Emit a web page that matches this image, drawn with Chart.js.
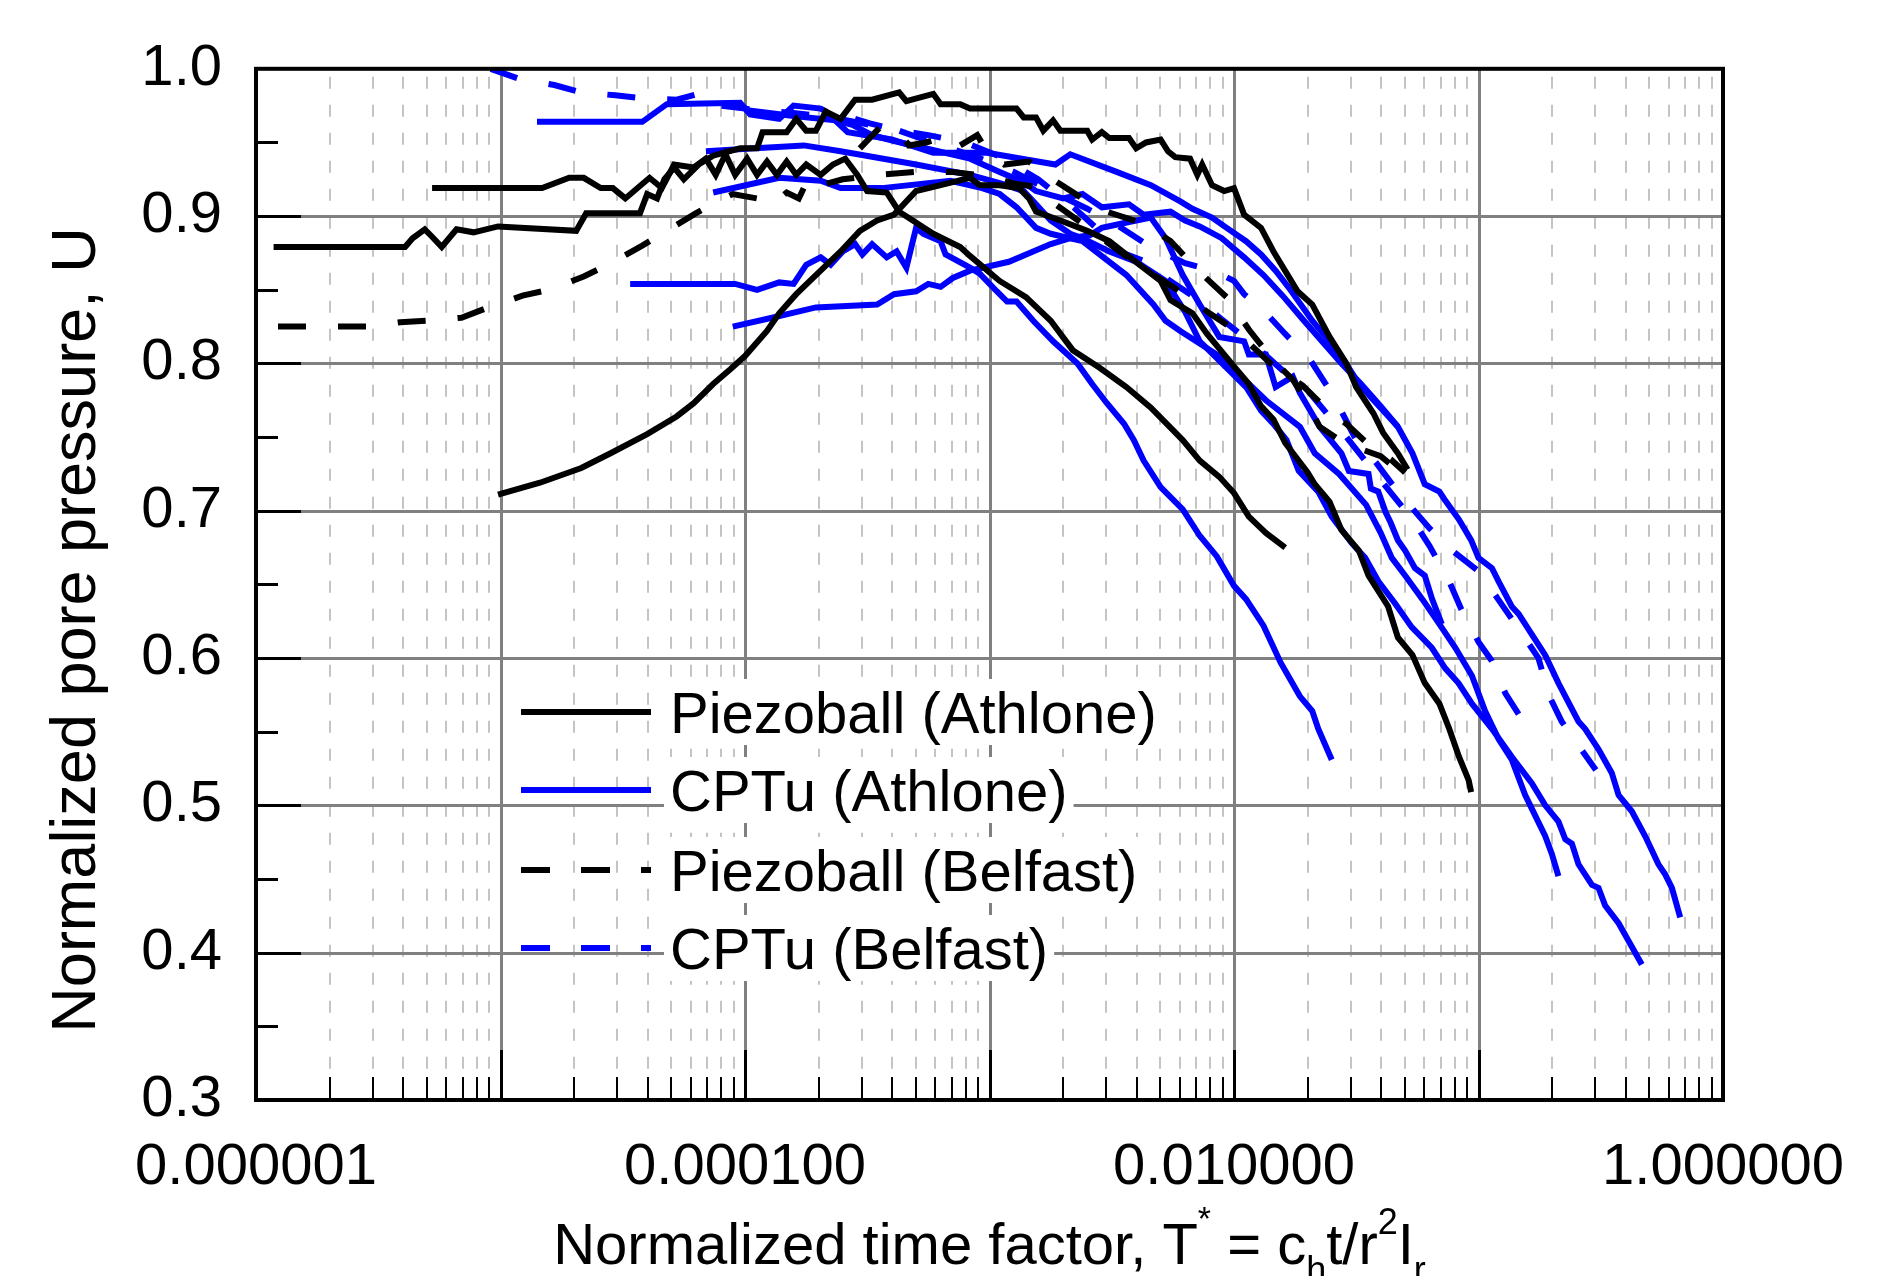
<!DOCTYPE html>
<html>
<head>
<meta charset="utf-8">
<title>Normalized pore pressure vs normalized time factor</title>
<script src="https://cdn.jsdelivr.net/npm/chart.js@4.4.1/dist/chart.umd.min.js"></script>
<style>
  html, body { margin: 0; padding: 0; background: #ffffff; }
  #wrap { width: 1879px; height: 1276px; position: relative; }
</style>
</head>
<body>
<div id="wrap"><canvas id="chart"></canvas></div>
<script>
// ---- data: [T*, U] ----
// Piezoball (Athlone) - black solid
const pbAthloneA = [[1.18e-6,0.879],[4.07e-6,0.879],[4.37e-6,0.885],[4.90e-6,0.891],[5.25e-6,0.886],[5.75e-6,0.879],[6.61e-6,0.891],[7.76e-6,0.889],[9.77e-6,0.893],[2.04e-5,0.890],[2.24e-5,0.902],[3.72e-5,0.902],[3.98e-5,0.915],[4.37e-5,0.912],[4.68e-5,0.925],[5.13e-5,0.933],[5.62e-5,0.925],[6.46e-5,0.935],[7.41e-5,0.941],[9.55e-5,0.946],[1.12e-4,0.946],[1.18e-4,0.957],[1.48e-4,0.957],[1.62e-4,0.966],[1.78e-4,0.958],[1.95e-4,0.958],[2.14e-4,0.971],[2.46e-4,0.966],[2.82e-4,0.979],[3.31e-4,0.979],[4.27e-4,0.984],[4.57e-4,0.978],[5.89e-4,0.983],[6.31e-4,0.976],[7.59e-4,0.976],[8.32e-4,0.973],[1.29e-3,0.973],[1.38e-3,0.967],[1.55e-3,0.967],[1.66e-3,0.958],[1.82e-3,0.965],[1.95e-3,0.958],[2.51e-3,0.958],[2.63e-3,0.952],[2.88e-3,0.957],[3.09e-3,0.953],[3.72e-3,0.953],[3.98e-3,0.946],[4.37e-3,0.950],[5.01e-3,0.952],[5.37e-3,0.944],[5.75e-3,0.940],[6.61e-3,0.939],[7.08e-3,0.928],[7.41e-3,0.935],[8.13e-3,0.921],[9.12e-3,0.917],[1.00e-2,0.919],[1.10e-2,0.901],[1.29e-2,0.892],[1.45e-2,0.876],[1.82e-2,0.849],[2.09e-2,0.840],[2.46e-2,0.818],[2.88e-2,0.800],[3.16e-2,0.784],[3.72e-2,0.766],[4.07e-2,0.753],[4.68e-2,0.739],[5.13e-2,0.728]];
const pbAthloneB = [[5.25e-6,0.919],[1.48e-5,0.919],[1.91e-5,0.926],[2.19e-5,0.926],[2.57e-5,0.919],[2.88e-5,0.919],[3.24e-5,0.912],[4.07e-5,0.926],[4.57e-5,0.919],[5.13e-5,0.935],[6.17e-5,0.933],[6.92e-5,0.939],[7.59e-5,0.928],[8.32e-5,0.942],[9.12e-5,0.928],[1.02e-4,0.939],[1.12e-4,0.928],[1.23e-4,0.937],[1.35e-4,0.928],[1.48e-4,0.937],[1.62e-4,0.928],[1.78e-4,0.935],[2.04e-4,0.928],[2.29e-4,0.935],[2.57e-4,0.939],[2.88e-4,0.928],[3.16e-4,0.917],[3.80e-4,0.916],[4.27e-4,0.903],[5.89e-4,0.888],[7.59e-4,0.879],[8.32e-4,0.873],[1.10e-3,0.856],[1.41e-3,0.845],[1.78e-3,0.829],[2.19e-3,0.809],[2.82e-3,0.797],[3.63e-3,0.784],[4.57e-3,0.770],[6.17e-3,0.748],[7.24e-3,0.734],[8.71e-3,0.723],[1.00e-2,0.712],[1.15e-2,0.696],[1.35e-2,0.685],[1.62e-2,0.675]];
const pbAthloneC = [[9.77e-6,0.711],[1.45e-5,0.719],[2.14e-5,0.729],[2.82e-5,0.739],[3.98e-5,0.752],[5.25e-5,0.764],[6.17e-5,0.773],[7.41e-5,0.786],[8.71e-5,0.796],[1.00e-4,0.805],[1.23e-4,0.822],[1.38e-4,0.834],[1.62e-4,0.847],[1.95e-4,0.860],[2.46e-4,0.876],[2.95e-4,0.890],[3.47e-4,0.897],[4.07e-4,0.901],[5.01e-4,0.917],[6.31e-4,0.921],[8.32e-4,0.926],[9.12e-4,0.921],[1.10e-3,0.921],[1.32e-3,0.919],[1.45e-3,0.912],[1.55e-3,0.903],[1.95e-3,0.897],[2.51e-3,0.890],[3.09e-3,0.883],[3.89e-3,0.870],[5.01e-3,0.856],[5.50e-3,0.843],[6.76e-3,0.834],[7.76e-3,0.820],[1.00e-2,0.798],[1.15e-2,0.786],[1.29e-2,0.771],[1.45e-2,0.762],[1.62e-2,0.746],[2.00e-2,0.726],[2.14e-2,0.718],[2.46e-2,0.706],[2.75e-2,0.687],[3.24e-2,0.673],[3.55e-2,0.656],[4.27e-2,0.635],[4.68e-2,0.614],[5.37e-2,0.602],[6.03e-2,0.583],[6.92e-2,0.569],[7.59e-2,0.552],[8.32e-2,0.533],[9.12e-2,0.517],[9.33e-2,0.509]];

// Piezoball (Belfast) - black dashed
const pbBelfastA = [[1.23e-6,0.825],[2.82e-6,0.825],[3.89e-6,0.828],[5.01e-6,0.829],[6.92e-6,0.831],[8.91e-6,0.838],[1.23e-5,0.846],[1.58e-5,0.850],[2.19e-5,0.859],[2.82e-5,0.868],[3.80e-5,0.880],[4.79e-5,0.890],[6.31e-5,0.902],[7.94e-5,0.911],[8.91e-5,0.915],[1.12e-4,0.912],[1.29e-4,0.908],[1.48e-4,0.916],[1.66e-4,0.912],[1.82e-4,0.926],[2.04e-4,0.921],[2.51e-4,0.925],[3.55e-4,0.928],[5.01e-4,0.930],[7.08e-4,0.930],[1.00e-3,0.927],[1.26e-3,0.922],[1.55e-3,0.920],[1.86e-3,0.908],[2.40e-3,0.895],[3.16e-3,0.880],[4.37e-3,0.863],[5.62e-3,0.852],[7.94e-3,0.834],[1.02e-2,0.822],[1.41e-2,0.800],[1.91e-2,0.785],[2.29e-2,0.772],[2.88e-2,0.759],[3.55e-2,0.745],[4.37e-2,0.735],[5.01e-2,0.726]];
const pbBelfastB = [[2.95e-4,0.946],[3.55e-4,0.960],[4.27e-4,0.957],[4.68e-4,0.948],[5.50e-4,0.950],[6.61e-4,0.954],[7.59e-4,0.948],[8.91e-4,0.955],[9.77e-4,0.944],[1.15e-3,0.935],[1.45e-3,0.937],[1.70e-3,0.928],[2.40e-3,0.912],[3.02e-3,0.903],[4.27e-3,0.895],[5.50e-3,0.883],[7.24e-3,0.862],[9.33e-3,0.845],[1.15e-2,0.823],[1.45e-2,0.802],[1.74e-2,0.789],[2.00e-2,0.773],[2.24e-2,0.757],[2.82e-2,0.746],[3.98e-2,0.737],[5.13e-2,0.722]];

// CPTu (Athlone) - blue solid
const cptAthloneA = [[1.41e-5,0.964],[3.80e-5,0.964],[4.79e-5,0.976],[9.55e-5,0.977],[1.05e-4,0.969],[1.38e-4,0.966],[1.58e-4,0.975],[2.04e-4,0.973],[2.14e-4,0.971],[2.63e-4,0.957],[3.98e-4,0.952],[5.89e-4,0.943],[9.77e-4,0.943],[1.86e-3,0.935],[2.14e-3,0.942],[3.31e-3,0.930],[4.57e-3,0.921],[6.03e-3,0.910],[6.76e-3,0.905],[8.13e-3,0.899],[9.33e-3,0.892],[1.12e-2,0.883],[1.29e-2,0.874],[1.48e-2,0.863],[1.70e-2,0.850],[2.09e-2,0.829],[2.46e-2,0.815],[2.82e-2,0.802],[3.16e-2,0.789],[3.63e-2,0.777],[4.07e-2,0.768],[4.68e-2,0.757],[5.37e-2,0.739],[6.03e-2,0.718],[6.92e-2,0.713],[7.24e-2,0.708],[8.32e-2,0.694],[9.33e-2,0.680],[0.100,0.668],[0.1135,0.661],[0.1208,0.652],[0.1368,0.635],[0.1459,0.630],[0.1652,0.616],[0.1875,0.602],[0.2123,0.583],[0.2564,0.557],[0.2729,0.552],[0.3097,0.538],[0.3508,0.522],[0.3741,0.507],[0.4236,0.496],[0.4808,0.479],[0.5445,0.460],[0.5808,0.453],[0.6180,0.444],[0.6683,0.424]];
const cptAthloneB = [[3.39e-5,0.854],[9.12e-5,0.854],[1.12e-4,0.850],[1.38e-4,0.855],[1.58e-4,0.854],[1.78e-4,0.867],[2.04e-4,0.872],[2.24e-4,0.867],[2.51e-4,0.876],[2.82e-4,0.881],[3.02e-4,0.874],[3.31e-4,0.881],[3.80e-4,0.872],[4.17e-4,0.876],[4.57e-4,0.865],[5.01e-4,0.892],[5.37e-4,0.888],[6.31e-4,0.883],[6.61e-4,0.874],[8.32e-4,0.865],[9.12e-4,0.861],[1.07e-3,0.849],[1.18e-3,0.842],[1.29e-3,0.842],[1.51e-3,0.829],[1.82e-3,0.815],[2.29e-3,0.800],[2.63e-3,0.786],[3.02e-3,0.773],[3.55e-3,0.759],[3.89e-3,0.748],[4.27e-3,0.734],[5.01e-3,0.716],[6.17e-3,0.701],[7.24e-3,0.683],[8.51e-3,0.669],[1.00e-2,0.649],[1.12e-2,0.640],[1.32e-2,0.622],[1.55e-2,0.597],[1.86e-2,0.574],[2.09e-2,0.564],[2.21e-2,0.552],[2.51e-2,0.531]];
const cptAthloneC = [[8.91e-5,0.825],[1.29e-4,0.831],[1.95e-4,0.838],[3.47e-4,0.840],[4.07e-4,0.847],[5.01e-4,0.849],[5.62e-4,0.854],[6.31e-4,0.852],[7.08e-4,0.858],[8.32e-4,0.863],[1.20e-3,0.869],[1.78e-3,0.881],[2.14e-3,0.885],[2.57e-3,0.887],[2.88e-3,0.892],[3.72e-3,0.896],[4.57e-3,0.899],[5.25e-3,0.885],[6.17e-3,0.860],[7.24e-3,0.840],[8.71e-3,0.818],[1.10e-2,0.815],[1.15e-2,0.806],[1.35e-2,0.806],[1.48e-2,0.784],[1.74e-2,0.791],[1.86e-2,0.780],[2.24e-2,0.757],[2.75e-2,0.739],[2.95e-2,0.727],[3.55e-2,0.725],[3.63e-2,0.715],[3.89e-2,0.713],[4.17e-2,0.699],[4.37e-2,0.692],[4.68e-2,0.680],[5.01e-2,0.673],[5.50e-2,0.661],[6.03e-2,0.656],[6.46e-2,0.640],[7.08e-2,0.623]];
const cptAthloneD = [[7.41e-5,0.916],[1.38e-4,0.926],[2.04e-4,0.924],[2.46e-4,0.919],[3.63e-4,0.919],[6.92e-4,0.924],[9.33e-4,0.919],[1.10e-3,0.915],[1.29e-3,0.906],[1.55e-3,0.892],[1.78e-3,0.888],[2.40e-3,0.883],[2.82e-3,0.874],[3.63e-3,0.860],[4.68e-3,0.840],[5.25e-3,0.829],[6.03e-3,0.822],[8.51e-3,0.806],[1.12e-2,0.788],[1.35e-2,0.775],[1.86e-2,0.757],[2.14e-2,0.739],[2.69e-2,0.725],[3.47e-2,0.704],[3.98e-2,0.685],[4.42e-2,0.668],[5.01e-2,0.656],[5.89e-2,0.640],[6.92e-2,0.623],[8.04e-2,0.607],[9.40e-2,0.588],[0.1064,0.564],[0.1208,0.545],[0.1368,0.531],[0.1552,0.507],[0.1706,0.493],[0.1875,0.479],[0.1995,0.467],[0.2123,0.452]];
const cptAthloneE = [[6.92e-5,0.944],[1.10e-4,0.946],[1.74e-4,0.948],[2.46e-4,0.944],[5.01e-4,0.935],[8.32e-4,0.928],[1.12e-3,0.922],[1.38e-3,0.917],[1.55e-3,0.908],[1.78e-3,0.897],[2.14e-3,0.888],[2.40e-3,0.885],[3.09e-3,0.876],[3.98e-3,0.869],[5.25e-3,0.856],[6.31e-3,0.835],[7.24e-3,0.815],[8.71e-3,0.802],[1.12e-2,0.784],[1.29e-2,0.768],[1.45e-2,0.759],[1.64e-2,0.748],[1.84e-2,0.727],[2.21e-2,0.713],[2.51e-2,0.696],[3.03e-2,0.678],[3.44e-2,0.668],[3.90e-2,0.652],[4.56e-2,0.637],[5.33e-2,0.621],[6.44e-2,0.607],[7.31e-2,0.593],[8.28e-2,0.583],[9.40e-2,0.569],[0.1135,0.552],[0.1368,0.533],[0.1652,0.515],[0.1875,0.500],[0.2123,0.489],[0.2265,0.477],[0.2410,0.474],[0.2564,0.460],[0.2911,0.446],[0.3097,0.444],[0.3296,0.432],[0.3741,0.420],[0.4111,0.408],[0.4656,0.392]];
const cptAthloneF = [[1.00e-4,0.972],[1.58e-4,0.968],[2.34e-4,0.965],[2.75e-4,0.962],[3.31e-4,0.955],[4.07e-4,0.951],[8.32e-4,0.939],[1.10e-3,0.930],[1.38e-3,0.923],[1.55e-3,0.917],[2.00e-3,0.912],[2.40e-3,0.915],[2.88e-3,0.906],[3.72e-3,0.908],[4.27e-3,0.901],[5.50e-3,0.903],[6.31e-3,0.897],[7.24e-3,0.893],[8.91e-3,0.885],[1.10e-2,0.872],[1.32e-2,0.860],[1.58e-2,0.846],[1.91e-2,0.830],[2.29e-2,0.815],[2.75e-2,0.800],[3.31e-2,0.786],[3.98e-2,0.771],[4.68e-2,0.757]];

// CPTu (Belfast) - blue dashed
const cptBelfastA = [[9.12e-6,1.000],[1.20e-5,0.993],[1.66e-5,0.989],[2.14e-5,0.984],[2.95e-5,0.982],[3.80e-5,0.980],[5.25e-5,0.979],[6.76e-5,0.984],[7.94e-5,0.975],[1.12e-4,0.972],[1.58e-4,0.970],[2.24e-4,0.967],[2.82e-4,0.964],[4.27e-4,0.958],[6.31e-4,0.948],[8.91e-4,0.940],[1.26e-3,0.930],[1.78e-3,0.917],[2.51e-3,0.905],[3.39e-3,0.893],[4.47e-3,0.880],[6.31e-3,0.868],[8.22e-3,0.863],[1.00e-2,0.856],[1.10e-2,0.847],[1.32e-2,0.836],[1.62e-2,0.820],[2.04e-2,0.803],[2.57e-2,0.777],[3.16e-2,0.748],[3.80e-2,0.733],[4.57e-2,0.715],[6.31e-2,0.688],[7.94e-2,0.672],[0.100,0.659],[0.1202,0.640],[0.1514,0.616],[0.1758,0.600],[0.1950,0.574],[0.2188,0.557],[0.2630,0.538],[0.3020,0.524]];
const cptBelfastB = [[2.82e-4,0.966],[3.24e-4,0.963],[4.27e-4,0.958],[5.62e-4,0.955],[7.94e-4,0.950],[1.12e-3,0.940],[1.58e-3,0.925],[2.24e-3,0.905],[2.82e-3,0.890],[3.39e-3,0.876],[4.37e-3,0.869],[5.25e-3,0.858],[6.61e-3,0.847],[8.91e-3,0.830],[1.26e-2,0.810],[1.74e-2,0.789],[2.04e-2,0.780],[2.82e-2,0.752],[3.80e-2,0.725],[5.37e-2,0.694],[6.31e-2,0.676],[7.59e-2,0.652],[8.51e-2,0.633],[0.100,0.611],[0.1135,0.598],[0.1288,0.576],[0.1459,0.562]];

// ---- axes / legend text ----
const xDecades = [1e-6, 1e-5, 1e-4, 1e-3, 1e-2, 1e-1, 1];
const xTickValues = [1e-6, 1e-4, 1e-2, 1];
const xTickLabels = ['0.000001', '0.000100', '0.010000', '1.000000'];
const yMajorValues = [0.4, 0.5, 0.6, 0.7, 0.8, 0.9];
const yMinorValues = [0.35, 0.45, 0.55, 0.65, 0.75, 0.85, 0.95];
const yAxisTitle = 'Normalized pore pressure, U';

const BLACK = '#000000';
const BLUE = '#0000ff';
const DASH = [28, 32];
const LINE_W = 6;
const FONT = "'Liberation Sans', Arial, Helvetica, sans-serif";

const legendItems = [
  { text: 'Piezoball (Athlone)', color: BLACK, dash: [] },
  { text: 'CPTu (Athlone)', color: BLUE, dash: [] },
  { text: 'Piezoball (Belfast)', color: BLACK, dash: [29, 31] },
  { text: 'CPTu (Belfast)', color: BLUE, dash: [29, 31] }
];

// first datasets are painted last (on top), so black goes first
const series = [
  { name: 'Piezoball (Athlone)', data: pbAthloneA, color: BLACK, dash: [] },
  { name: 'Piezoball (Athlone)', data: pbAthloneB, color: BLACK, dash: [] },
  { name: 'Piezoball (Athlone)', data: pbAthloneC, color: BLACK, dash: [] },
  { name: 'Piezoball (Belfast)', data: pbBelfastA, color: BLACK, dash: DASH },
  { name: 'Piezoball (Belfast)', data: pbBelfastB, color: BLACK, dash: DASH },
  { name: 'CPTu (Belfast)', data: cptBelfastA, color: BLUE, dash: DASH },
  { name: 'CPTu (Belfast)', data: cptBelfastB, color: BLUE, dash: DASH },
  { name: 'CPTu (Athlone)', data: cptAthloneA, color: BLUE, dash: [] },
  { name: 'CPTu (Athlone)', data: cptAthloneB, color: BLUE, dash: [] },
  { name: 'CPTu (Athlone)', data: cptAthloneC, color: BLUE, dash: [] },
  { name: 'CPTu (Athlone)', data: cptAthloneD, color: BLUE, dash: [] },
  { name: 'CPTu (Athlone)', data: cptAthloneE, color: BLUE, dash: [] },
  { name: 'CPTu (Athlone)', data: cptAthloneF, color: BLUE, dash: [] }
];

// grid, inward ticks, frame, legend and axis titles
const decorations = {
  id: 'decorations',
  beforeDatasetsDraw(chart) {
    const { ctx, chartArea: a, scales: { x, y } } = chart;
    ctx.save();
    // minor decades: dashed light grey
    ctx.strokeStyle = '#c4c4c4';
    ctx.lineWidth = 2;
    ctx.setLineDash([12, 16]);
    for (let d = 0; d < xDecades.length - 1; d++) {
      for (let k = 2; k <= 9; k++) {
        const px = Math.round(x.getPixelForValue(xDecades[d] * k));
        ctx.beginPath();
        ctx.moveTo(px, a.top + 8);
        ctx.lineTo(px, a.bottom);
        ctx.stroke();
      }
    }
    // major grid
    ctx.setLineDash([]);
    ctx.strokeStyle = '#808080';
    ctx.lineWidth = 3;
    xDecades.slice(1, -1).forEach(v => {
      const px = Math.round(x.getPixelForValue(v)) + 0.5;
      ctx.beginPath(); ctx.moveTo(px, a.top); ctx.lineTo(px, a.bottom); ctx.stroke();
    });
    yMajorValues.forEach(v => {
      const py = Math.round(y.getPixelForValue(v)) + 0.5;
      ctx.beginPath(); ctx.moveTo(a.left, py); ctx.lineTo(a.right, py); ctx.stroke();
    });
    ctx.restore();
  },
  afterDatasetsDraw(chart) {
    const { ctx, chartArea: a, scales: { x, y } } = chart;
    ctx.save();
    ctx.setLineDash([]);
    ctx.strokeStyle = BLACK;

    // inward ticks on the left axis
    ctx.lineWidth = 3;
    yMajorValues.forEach(v => {
      const py = Math.round(y.getPixelForValue(v)) + 0.5;
      ctx.beginPath(); ctx.moveTo(a.left, py); ctx.lineTo(a.left + 45, py); ctx.stroke();
    });
    yMinorValues.forEach(v => {
      const py = Math.round(y.getPixelForValue(v)) + 0.5;
      ctx.beginPath(); ctx.moveTo(a.left, py); ctx.lineTo(a.left + 22, py); ctx.stroke();
    });
    // inward ticks on the bottom axis
    xDecades.slice(1, -1).forEach(v => {
      const px = Math.round(x.getPixelForValue(v)) + 0.5;
      ctx.beginPath(); ctx.moveTo(px, a.bottom); ctx.lineTo(px, a.bottom - 50); ctx.stroke();
    });
    ctx.lineWidth = 2;
    for (let d = 0; d < xDecades.length - 1; d++) {
      for (let k = 2; k <= 9; k++) {
        const px = Math.round(x.getPixelForValue(xDecades[d] * k));
        ctx.beginPath(); ctx.moveTo(px, a.bottom); ctx.lineTo(px, a.bottom - 23); ctx.stroke();
      }
    }

    // frame
    ctx.lineWidth = 4;
    ctx.strokeRect(a.left, a.top, a.right - a.left, a.bottom - a.top);

    // legend
    ctx.font = '58px ' + FONT;
    ctx.textAlign = 'left';
    ctx.textBaseline = 'alphabetic';
    const rowY = [712, 790, 870, 948];
    legendItems.forEach((it, i) => {
      const yy = rowY[i];
      const w = ctx.measureText(it.text).width;
      ctx.fillStyle = '#ffffff';
      ctx.fillRect(664, yy - 33, w + 12, 66);
      ctx.strokeStyle = it.color;
      ctx.lineWidth = LINE_W;
      ctx.setLineDash(it.dash);
      ctx.beginPath(); ctx.moveTo(521, yy); ctx.lineTo(651, yy); ctx.stroke();
      ctx.setLineDash([]);
      ctx.fillStyle = BLACK;
      ctx.fillText(it.text, 670, yy + 21);
    });

    // y title
    ctx.save();
    ctx.translate(78, 630);
    ctx.rotate(-Math.PI / 2);
    ctx.font = '63px ' + FONT;
    ctx.textAlign = 'center';
    ctx.textBaseline = 'middle';
    ctx.fillStyle = BLACK;
    ctx.fillText(yAxisTitle, 0, 0);
    ctx.restore();

    // x title with super/subscripts
    const parts = [
      { t: 'Normalized time factor, T', s: 58, dy: 0 },
      { t: '*', s: 34, dy: -34 },
      { t: ' = c', s: 58, dy: 0 },
      { t: 'h', s: 36, dy: 18 },
      { t: 't/r', s: 58, dy: 0 },
      { t: '2', s: 36, dy: -30 },
      { t: 'I', s: 58, dy: 0 },
      { t: 'r', s: 36, dy: 18 }
    ];
    let total = 0;
    parts.forEach(p => { ctx.font = p.s + 'px ' + FONT; p.w = ctx.measureText(p.t).width; total += p.w; });
    let cx = (a.left + a.right) / 2 - total / 2;
    const base = 1264;
    ctx.fillStyle = BLACK;
    ctx.textAlign = 'left';
    ctx.textBaseline = 'alphabetic';
    parts.forEach(p => {
      ctx.font = p.s + 'px ' + FONT;
      ctx.fillText(p.t, cx, base + p.dy);
      cx += p.w;
    });
    ctx.restore();
  }
};

const ctx = document.getElementById('chart').getContext('2d');
new Chart(ctx, {
  type: 'scatter',
  data: {
    datasets: series.map(s => ({
      label: s.name,
      data: s.data.map(p => ({ x: p[0], y: p[1] })),
      showLine: true,
      borderColor: s.color,
      backgroundColor: s.color,
      borderWidth: LINE_W,
      borderDash: s.dash,
      pointRadius: 0,
      pointHoverRadius: 0,
      tension: 0,
      fill: false
    }))
  },
  options: {
    responsive: true,
    maintainAspectRatio: false,
    animation: false,
    devicePixelRatio: 1,
    layout: { padding: { top: 63, right: 156, bottom: 0, left: 0 } },
    plugins: {
      legend: { display: false },
      title: { display: false },
      tooltip: { enabled: false }
    },
    scales: {
      x: {
        type: 'logarithmic',
        min: 1e-6,
        max: 1,
        grid: { display: false, drawTicks: false },
        border: { display: false },
        afterBuildTicks: scale => { scale.ticks = xTickValues.map(v => ({ value: v })); },
        afterFit: scale => { scale.height = 176; },
        ticks: {
          autoSkip: false,
          maxRotation: 0,
          padding: 33,
          color: BLACK,
          font: { family: FONT, size: 58 },
          callback: (value, index) => xTickLabels[index]
        }
      },
      y: {
        type: 'linear',
        min: 0.3,
        max: 1.0,
        grid: { display: false, drawTicks: false },
        border: { display: false },
        afterFit: scale => { scale.width = 256; },
        ticks: {
          stepSize: 0.1,
          padding: 34,
          color: BLACK,
          font: { family: FONT, size: 58 },
          callback: v => Number(v).toFixed(1)
        }
      }
    }
  },
  plugins: [decorations]
});
</script>
</body>
</html>
